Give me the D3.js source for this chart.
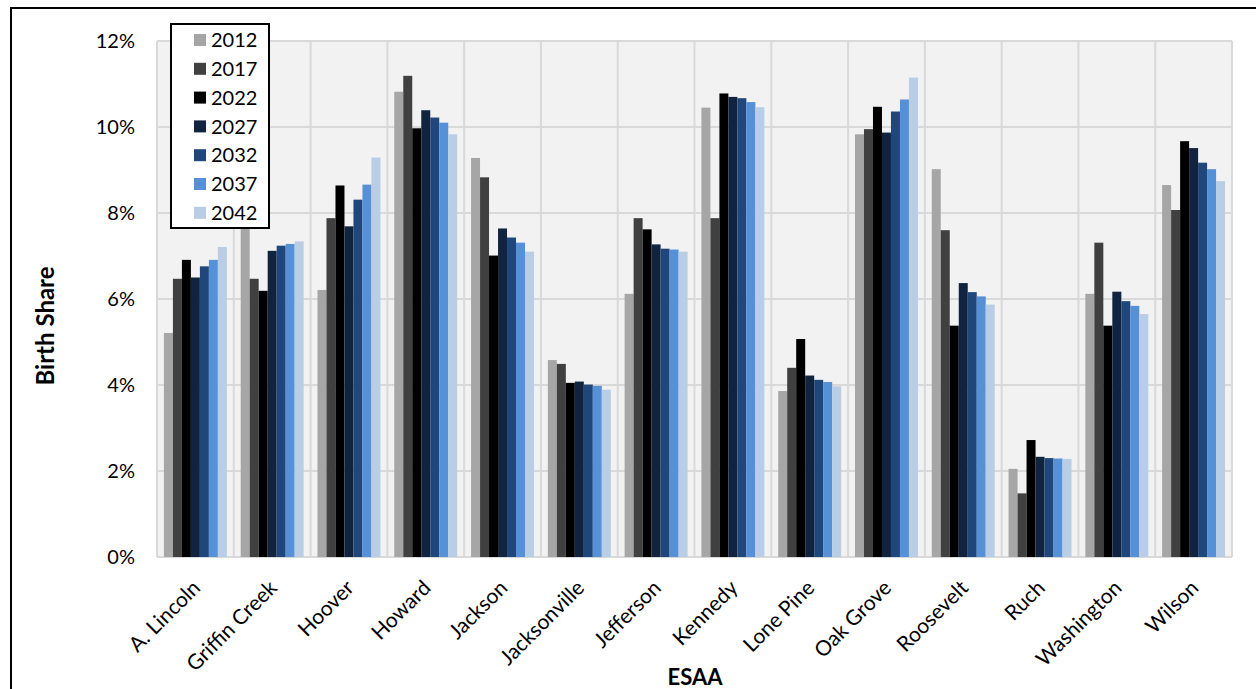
<!DOCTYPE html>
<html>
<head>
<meta charset="utf-8">
<script src="https://cdn.jsdelivr.net/npm/d3@7"></script>
<style>
  body { margin: 0; background: #ffffff; }
  svg { display: block; font-family: Lato, "Open Sans", sans-serif; }
</style>
</head>
<body>
<svg id="chart" width="1256" height="689"></svg>
<script>
// categories on the x axis
var schools = ["A. Lincoln", "Griffin Creek", "Hoover", "Howard", "Jackson", "Jacksonville", "Jefferson",
               "Kennedy", "Lone Pine", "Oak Grove", "Roosevelt", "Ruch", "Washington", "Wilson"];
var years = ["2012", "2017", "2022", "2027", "2032", "2037", "2042"];
var yearColors = ["#a6a6a6", "#404040", "#000000", "#11243f", "#1f477b", "#5690d6", "#b9cde5"];
var yTicks = [0, 2, 4, 6, 8, 10, 12];

// birth share in percent, one array per year, in school order
var share2012 = [5.21, 7.80, 6.21, 10.82, 9.28, 4.58, 6.12, 10.45, 3.86, 9.83, 9.02, 2.05, 6.12, 8.65];
var share2017 = [6.47, 6.47, 7.88, 11.19, 8.83, 4.49, 7.88, 7.88, 4.40, 9.95, 7.60, 1.48, 7.31, 8.07];
var share2022 = [6.91, 6.19, 8.64, 9.97, 7.01, 4.05, 7.62, 10.78, 5.07, 10.47, 5.38, 2.72, 5.38, 9.67];
var share2027 = [6.50, 7.12, 7.69, 10.39, 7.64, 4.08, 7.27, 10.70, 4.22, 9.87, 6.37, 2.33, 6.17, 9.51];
var share2032 = [6.76, 7.24, 8.31, 10.22, 7.43, 4.01, 7.17, 10.67, 4.12, 10.36, 6.16, 2.30, 5.95, 9.17];
var share2037 = [6.91, 7.28, 8.66, 10.10, 7.31, 3.98, 7.15, 10.58, 4.07, 10.64, 6.06, 2.29, 5.84, 9.02];
var share2042 = [7.21, 7.34, 9.29, 9.83, 7.10, 3.89, 7.10, 10.46, 3.97, 11.15, 5.87, 2.28, 5.65, 8.74];

var series = [share2012, share2017, share2022, share2027, share2032, share2037, share2042];

var svg = d3.select("#chart");

// outer frame, runs off the right and bottom edges
svg.append("rect")
    .attr("x", 11)
    .attr("y", 8)
    .attr("width", 1400)
    .attr("height", 900)
    .attr("fill", "none")
    .attr("stroke", "black")
    .attr("stroke-width", 2)

var plotLeft = 157, plotRight = 1232, plotTop = 41, plotBottom = 557;

var x0 = d3.scaleBand()
    .domain(schools)
    .range([plotLeft, plotRight])
    .paddingInner(0.18)
    .paddingOuter(0.09);
var x1 = d3.scaleBand()
    .domain(years)
    .range([0, x0.bandwidth()]);
var y = d3.scaleLinear()
    .domain([0, 12])
    .range([plotBottom, plotTop]);

// plot background
svg.append("rect")
    .attr("x", plotLeft)
    .attr("y", plotTop)
    .attr("width", plotRight - plotLeft)
    .attr("height", plotBottom - plotTop)
    .attr("fill", "#f2f2f2")

// horizontal grid
svg.append("g")
    .selectAll("line")
    .data(yTicks)
    .enter().append("line")
    .attr("x1", plotLeft)
    .attr("x2", plotRight)
    .attr("y1", d => y(d))
    .attr("y2", d => y(d))
    .attr("stroke", "#d9d9d9")
    .attr("stroke-width", 2)

// vertical grid between schools
var step = x0.step();
var edges = d3.range(schools.length + 1).map(i => plotLeft + i * step);
svg.append("g")
    .selectAll("line")
    .data(edges)
    .enter().append("line")
    .attr("x1", d => d)
    .attr("x2", d => d)
    .attr("y1", plotTop)
    .attr("y2", plotBottom)
    .attr("stroke", "#d9d9d9")
    .attr("stroke-width", 2)

// bars
var groups = svg.append("g")
    .selectAll("g")
    .data(schools)
    .enter().append("g")
    .attr("transform", d => "translate(" + x0(d) + ",0)");

groups.selectAll("rect")
    .data((d, i) => years.map((yr, j) => ({ year: yr, color: yearColors[j], value: series[j][i] })))
    .enter().append("rect")
    .attr("x", d => x1(d.year))
    .attr("width", x1.bandwidth())
    .attr("y", d => y(d.value))
    .attr("height", d => y(0) - y(d.value))
    .attr("fill", d => d.color)

// y tick labels
svg.append("g")
    .selectAll("text")
    .data(yTicks)
    .enter().append("text")
    .attr("x", 135)
    .attr("y", d => y(d))
    .attr("dy", "0.35em")
    .attr("text-anchor", "end")
    .style("font-size", "20px")
    .text(d => d + "%")

// x tick labels, rotated
svg.append("g")
    .selectAll("text")
    .data(schools)
    .enter().append("text")
    .attr("transform", d => "translate(" + (x0(d) + x0.bandwidth() / 2 + 1) + ",584) rotate(-45)")
    .attr("text-anchor", "end")
    .attr("dy", "0.35em")
    .style("font-size", "21px")
    .text(d => d)

// axis titles
svg.append("text")
    .attr("transform", "translate(54,326) rotate(-90)")
    .attr("text-anchor", "middle")
    .style("font-size", "24px")
    .style("font-weight", 700)
    .text("Birth Share")

svg.append("text")
    .attr("x", 695)
    .attr("y", 685)
    .attr("text-anchor", "middle")
    .style("font-size", "22px")
    .style("font-weight", 700)
    .text("ESAA")

// legend
var legend = svg.append("g");
legend.append("rect")
    .attr("x", 171)
    .attr("y", 24)
    .attr("width", 98)
    .attr("height", 204)
    .attr("fill", "white")
    .attr("stroke", "black")
    .attr("stroke-width", 2)

var items = legend.selectAll("g.item")
    .data(years)
    .enter().append("g")
    .attr("class", "item")
    .attr("transform", (d, i) => "translate(194," + (40 + i * 28.8) + ")");
items.append("rect")
    .attr("x", 0)
    .attr("y", -6)
    .attr("width", 12)
    .attr("height", 12)
    .attr("fill", (d, i) => yearColors[i])
items.append("text")
    .attr("x", 17)
    .attr("dy", "0.36em")
    .style("font-size", "20px")
    .text(d => d)
</script>
</body>
</html>
